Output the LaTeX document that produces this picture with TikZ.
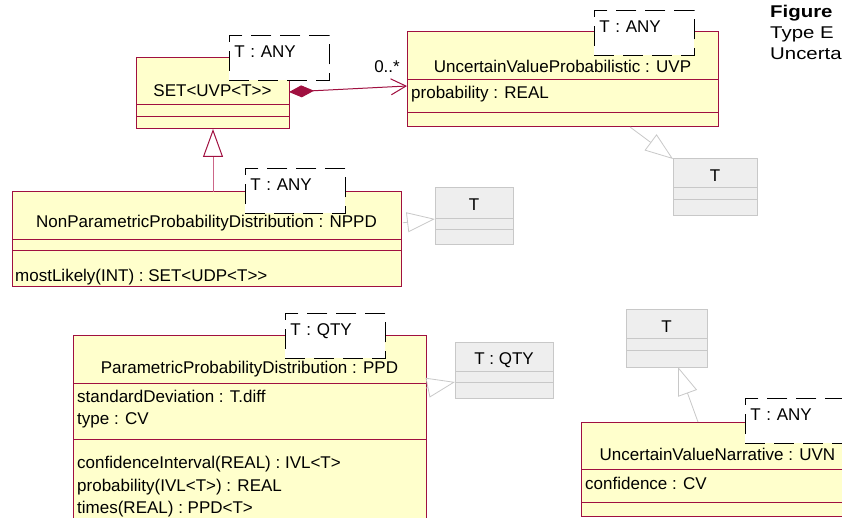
\documentclass[tikz,border=0pt]{standalone}
\usepackage{fontspec}
\setmainfont{Liberation Sans}
\usetikzlibrary{arrows.meta,positioning}

\definecolor{umlred}{HTML}{A01040}
\definecolor{umlpink}{HTML}{CC6688}
\definecolor{umlfill}{HTML}{FFFFCC}
\definecolor{tgray}{HTML}{C8C8C8}
\definecolor{tfill}{HTML}{EEEEEE}

\begin{document}
\begin{tikzpicture}[
    x=1pt, y=-1pt,
    font=\fontsize{17}{22}\selectfont,
    cell/.style={draw=umlred, fill=umlfill, line width=1pt, outer sep=0pt, inner sep=0pt, minimum width=#1},
    cell/.default=100pt,
    tcell/.style={draw=tgray, fill=tfill, line width=1pt, outer sep=0pt, inner sep=0pt, minimum width=#1},
    tcell/.default=80pt,
    tmpl/.style={draw=black, dash pattern=on 20pt off 9pt, fill=white, line width=0.8pt, anchor=north west, align=left, text width=90pt, inner xsep=5pt, inner ysep=3pt, text height=19pt, text depth=20pt},
    cname/.style={anchor=base, inner sep=0pt},
    item/.style={anchor=base west, inner sep=0pt},
    comp/.style={draw=umlred, line width=1pt, {Diamond[length=25pt,width=12pt]}-{Straight Barb[length=15pt,width=16pt]}},
    genred/.style={draw=umlpink, line width=1pt, -{Triangle[open, length=28pt, width=20pt, color=umlred]}},
    gengray/.style={draw=tgray, line width=0.8pt, -{Triangle[open, length=28pt, width=20pt]}}
]
\useasboundingbox (0,0) rectangle (842,518);
\clip (0,0) rectangle (842,518);

% SET<UVP<T>>
\node[cell=153pt, minimum height=47pt, anchor=north west] (set_t) at (136,58) {};
\node[cell=153pt, minimum height=12pt, below=0pt of set_t] (set_a) {};
\node[cell=153pt, minimum height=12pt, below=0pt of set_a] (set_o) {};
\node[cname] (set_n) at ([yshift=8pt]set_t.south) {SET<UVP<T>{}>};

% UncertainValueProbabilistic
\node[cell=311pt, minimum height=48pt, anchor=north west] (uvp_t) at (407,32) {};
\node[cell=311pt, minimum height=33pt, below=0pt of uvp_t] (uvp_a) {};
\node[cell=311pt, minimum height=14pt, below=0pt of uvp_a] (uvp_o) {};
\node[cname] (uvp_n) at ([yshift=7pt]uvp_t.south) {UncertainValueProbabilistic : UVP};
\node[item] (uvp_a1) at ([xshift=4pt, yshift=-19pt]uvp_a.north west) {probability : REAL};

% NonParametricProbabilityDistribution
\node[cell=389pt, minimum height=48pt, anchor=north west] (nppd_t) at (12,192) {};
\node[cell=389pt, minimum height=11pt, below=0pt of nppd_t] (nppd_a) {};
\node[cell=389pt, minimum height=35pt, below=0pt of nppd_a] (nppd_o) {};
\node[cname] (nppd_n) at ([yshift=12pt]nppd_t.south) {NonParametricProbabilityDistribution : NPPD};
\node[item] (nppd_o1) at ([xshift=3pt, yshift=-31pt]nppd_o.north west) {mostLikely(INT) : SET<UDP<T>{}>};

% ParametricProbabilityDistribution
\node[cell=353pt, minimum height=48pt, anchor=north west] (ppd_t) at (73,335) {};
\node[cell=353pt, minimum height=56pt, below=0pt of ppd_t] (ppd_a) {};
\node[cell=353pt, minimum height=90pt, below=0pt of ppd_a] (ppd_o) {};
\node[cname] (ppd_n) at ([yshift=10pt]ppd_t.south) {ParametricProbabilityDistribution : PPD};
\node[item] (ppd_a1) at ([xshift=4pt, yshift=-19pt]ppd_a.north west) {standardDeviation : T.diff};
\node[item] (ppd_a2) at ([xshift=4pt, yshift=-41pt]ppd_a.north west) {type : CV};
\node[item] (ppd_o1) at ([xshift=4pt, yshift=-29pt]ppd_o.north west) {confidenceInterval(REAL) : IVL<T>};
\node[item] (ppd_o2) at ([xshift=4pt, yshift=-52pt]ppd_o.north west) {probability(IVL<T>) : REAL};
\node[item] (ppd_o3) at ([xshift=4pt, yshift=-74pt]ppd_o.north west) {times(REAL) : PPD<T>};

% UncertainValueNarrative
\node[cell=273pt, minimum height=47pt, anchor=north west] (uvn_t) at (581,422) {};
\node[cell=273pt, minimum height=33pt, below=0pt of uvn_t] (uvn_a) {};
\node[cell=273pt, minimum height=14pt, below=0pt of uvn_a] (uvn_o) {};
\node[cname] (uvn_n) at ([yshift=9pt]uvn_t.south) {UncertainValueNarrative : UVN};
\node[item] (uvn_a1) at ([xshift=4pt, yshift=-20pt]uvn_a.north west) {confidence : CV};

% parameter types
\node[tcell=84pt, minimum height=29pt, anchor=north west] (t1_t) at (673,159) {};
\node[tcell=84pt, minimum height=12pt, below=0pt of t1_t] (t1_a) {};
\node[tcell=84pt, minimum height=16pt, below=0pt of t1_a] (t1_o) {};
\node[cname] (t1_n) at ([yshift=6pt]t1_t.south) {T};

\node[tcell=78pt, minimum height=31pt, anchor=north west] (t2_t) at (435,188) {};
\node[tcell=78pt, minimum height=11pt, below=0pt of t2_t] (t2_a) {};
\node[tcell=78pt, minimum height=15pt, below=0pt of t2_a] (t2_o) {};
\node[cname] (t2_n) at ([yshift=8pt]t2_t.south) {T};

\node[tcell=98pt, minimum height=29pt, anchor=north west] (tq_t) at (455,342) {};
\node[tcell=98pt, minimum height=11pt, below=0pt of tq_t] (tq_a) {};
\node[tcell=98pt, minimum height=16pt, below=0pt of tq_a] (tq_o) {};
\node[cname] (tq_n) at ([yshift=7pt]tq_t.south) {T : QTY};

\node[tcell=81pt, minimum height=29pt, anchor=north west] (t3_t) at (626,309) {};
\node[tcell=81pt, minimum height=12pt, below=0pt of t3_t] (t3_a) {};
\node[tcell=81pt, minimum height=17pt, below=0pt of t3_a] (t3_o) {};
\node[cname] (t3_n) at ([yshift=6pt]t3_t.south) {T};

% template parameters
\node[tmpl] (set_p) at (229,35) {T : ANY};
\node[tmpl] (uvp_p) at (594,10) {T : ANY};
\node[tmpl] (nppd_p) at (245,168) {T : ANY};
\node[tmpl] (ppd_p) at (285,313) {T : QTY};
\node[tmpl] (uvn_p) at (745,398) {T : ANY};

% connectors
\draw[comp] ([yshift=13pt]set_t.south east) -- ([yshift=-6pt]uvp_a.north west);
\node[anchor=base east, inner sep=0pt] (mult) at ([xshift=-7pt, yshift=7pt]uvp_a.north west) {0..*};
\draw[genred] ([xshift=201pt]nppd_t.north west) -- ([xshift=77pt]set_o.south west);
\draw[gengray, shorten <=2pt] ([yshift=17pt]nppd_t.south east) -- (t2_t.south west);
\draw[gengray] ([xshift=223pt]uvp_o.south west) -- (t1_t.north west);
\draw[gengray] ([yshift=-5pt]ppd_a.north east) -- (tq_a.south west);
\draw[gengray] ([xshift=117pt]uvn_t.north west) -- ([xshift=52pt]t3_o.south west);

% caption
\node[anchor=north west, inner sep=0pt, align=left, font=\fontsize{17}{21}\selectfont] (caption) at (770,5)
  {\scalebox{1.2}[1]{\textbf{Figure}}\\\scalebox{1.2}[1]{Type E}\\\scalebox{1.2}[1]{Uncerta}};

\end{tikzpicture}
\end{document}
